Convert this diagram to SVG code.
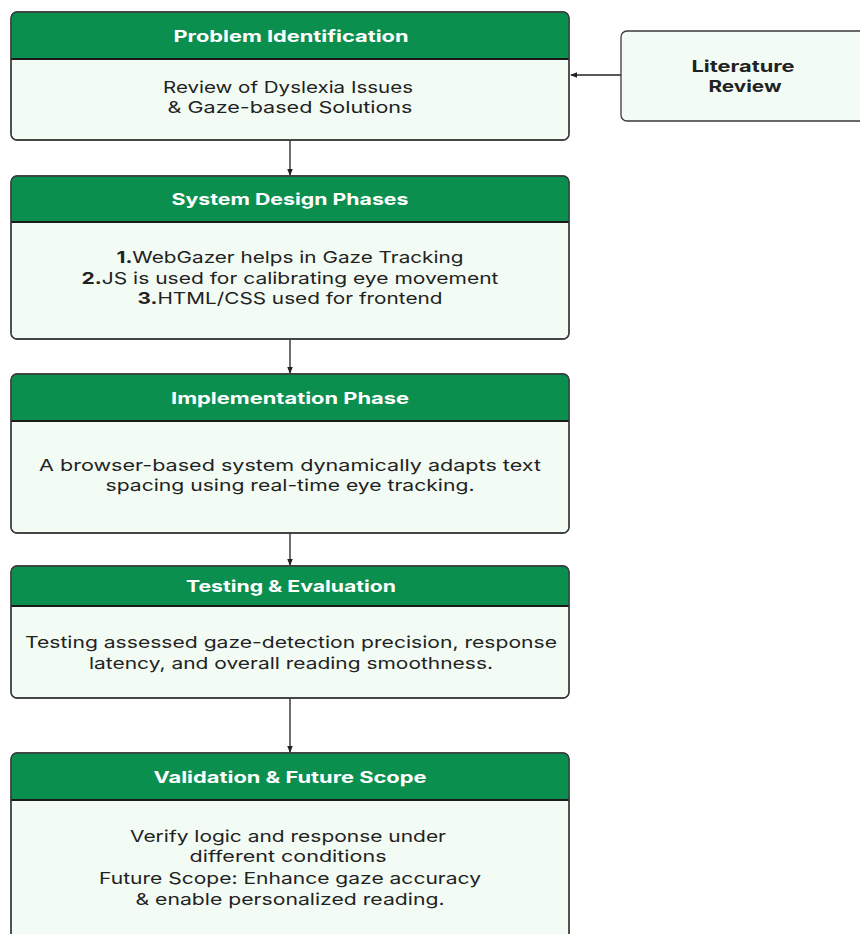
<svg xmlns="http://www.w3.org/2000/svg" width="860" height="934" viewBox="0 0 860 934">
<style>
.box{fill:#f3fcf4;stroke:#3a3a3a;stroke-width:1.3}
.hdr{fill:#0b8f4f}
.div{stroke:#1a1a1a;stroke-width:2}
.ht{font-family:Inter,"Liberation Sans",sans-serif;font-weight:700;font-size:16px;fill:#ffffff;text-anchor:middle}
.bt{font-family:Inter,"Liberation Sans",sans-serif;font-size:16.5px;fill:#222;text-anchor:middle}
.lt{font-family:Inter,"Liberation Sans",sans-serif;font-weight:700;font-size:16px;fill:#222;text-anchor:middle}
.con{stroke:#222;stroke-width:1.3;fill:none}
</style>
<defs>
<marker id="ah" viewBox="0 0 8 8" refX="7" refY="4" markerWidth="7" markerHeight="7" markerUnits="userSpaceOnUse" orient="auto">
<path d="M0,0.8 L8,4 L0,7.2 Z" fill="#222"/>
</marker>
<clipPath id="c1"><rect x="11" y="12" width="558" height="128" rx="6"/></clipPath>
<clipPath id="c2"><rect x="11" y="176" width="558" height="163" rx="6"/></clipPath>
<clipPath id="c3"><rect x="11" y="374" width="558" height="159" rx="6"/></clipPath>
<clipPath id="c4"><rect x="11" y="566" width="558" height="132" rx="6"/></clipPath>
<clipPath id="c5"><rect x="11" y="753" width="558" height="200" rx="6"/></clipPath>
</defs>
<rect width="860" height="934" fill="#ffffff"/>

<g id="connectors">
<line class="con" x1="290" y1="140" x2="290" y2="175" marker-end="url(#ah)"/>
<line class="con" x1="290" y1="339" x2="290" y2="373" marker-end="url(#ah)"/>
<line class="con" x1="290" y1="533" x2="290" y2="565" marker-end="url(#ah)"/>
<line class="con" x1="290" y1="698" x2="290" y2="752" marker-end="url(#ah)"/>
<line class="con" x1="621" y1="75" x2="571" y2="75" marker-end="url(#ah)"/>
</g>

<g id="problem-identification">
<rect class="box" x="11" y="12" width="558" height="128" rx="6"/>
<rect class="hdr" x="11" y="12" width="558" height="47" clip-path="url(#c1)"/>
<line class="div" x1="11" y1="59" x2="569" y2="59"/>
<rect x="11" y="12" width="558" height="128" rx="6" fill="none" stroke="#3a3a3a" stroke-width="1.3"/>
<text class="ht" x="291" y="42" textLength="235" lengthAdjust="spacingAndGlyphs">Problem Identification</text>
<text class="bt" x="288" y="93" textLength="250" lengthAdjust="spacingAndGlyphs">Review of Dyslexia Issues</text>
<text class="bt" x="290" y="113" textLength="245" lengthAdjust="spacingAndGlyphs">&amp; Gaze-based Solutions</text>
</g>

<g id="literature-review">
<rect class="box" x="621" y="31" width="260" height="90" rx="6"/>
<text class="lt" x="743" y="72" textLength="103" lengthAdjust="spacingAndGlyphs">Literature</text>
<text class="lt" x="745" y="92" textLength="73" lengthAdjust="spacingAndGlyphs">Review</text>
</g>

<g id="system-design">
<rect class="box" x="11" y="176" width="558" height="163" rx="6"/>
<rect class="hdr" x="11" y="176" width="558" height="46" clip-path="url(#c2)"/>
<line class="div" x1="11" y1="222" x2="569" y2="222"/>
<rect x="11" y="176" width="558" height="163" rx="6" fill="none" stroke="#3a3a3a" stroke-width="1.3"/>
<text class="ht" x="290" y="205" textLength="237" lengthAdjust="spacingAndGlyphs">System Design Phases</text>
<text class="bt" x="290" y="263" textLength="347" lengthAdjust="spacingAndGlyphs"><tspan font-weight="700">1.</tspan>WebGazer helps in Gaze Tracking</text>
<text class="bt" x="290" y="284" textLength="417" lengthAdjust="spacingAndGlyphs"><tspan font-weight="700">2.</tspan>JS is used for calibrating eye movement</text>
<text class="bt" x="290" y="304" textLength="305" lengthAdjust="spacingAndGlyphs"><tspan font-weight="700">3.</tspan>HTML/CSS used for frontend</text>
</g>

<g id="implementation">
<rect class="box" x="11" y="374" width="558" height="159" rx="6"/>
<rect class="hdr" x="11" y="374" width="558" height="47" clip-path="url(#c3)"/>
<line class="div" x1="11" y1="421" x2="569" y2="421"/>
<rect x="11" y="374" width="558" height="159" rx="6" fill="none" stroke="#3a3a3a" stroke-width="1.3"/>
<text class="ht" x="290" y="404" textLength="238" lengthAdjust="spacingAndGlyphs">Implementation Phase</text>
<text class="bt" x="290" y="471" textLength="502" lengthAdjust="spacingAndGlyphs">A browser-based system dynamically adapts text</text>
<text class="bt" x="290" y="491" textLength="369" lengthAdjust="spacingAndGlyphs">spacing using real-time eye tracking.</text>
</g>

<g id="testing">
<rect class="box" x="11" y="566" width="558" height="132" rx="6"/>
<rect class="hdr" x="11" y="566" width="558" height="40" clip-path="url(#c4)"/>
<line class="div" x1="11" y1="606" x2="569" y2="606"/>
<rect x="11" y="566" width="558" height="132" rx="6" fill="none" stroke="#3a3a3a" stroke-width="1.3"/>
<text class="ht" x="291" y="592" textLength="210" lengthAdjust="spacingAndGlyphs">Testing &amp; Evaluation</text>
<text class="bt" x="291" y="648" textLength="532" lengthAdjust="spacingAndGlyphs">Testing assessed gaze-detection precision, response</text>
<text class="bt" x="291" y="669" textLength="404" lengthAdjust="spacingAndGlyphs">latency, and overall reading smoothness.</text>
</g>

<g id="validation">
<rect class="box" x="11" y="753" width="558" height="200" rx="6"/>
<rect class="hdr" x="11" y="753" width="558" height="47" clip-path="url(#c5)"/>
<line class="div" x1="11" y1="800" x2="569" y2="800"/>
<rect x="11" y="753" width="558" height="200" rx="6" fill="none" stroke="#3a3a3a" stroke-width="1.3"/>
<text class="ht" x="290" y="783" textLength="273" lengthAdjust="spacingAndGlyphs">Validation &amp; Future Scope</text>
<text class="bt" x="288" y="842" textLength="316" lengthAdjust="spacingAndGlyphs">Verify logic and response under</text>
<text class="bt" x="288" y="862" textLength="197" lengthAdjust="spacingAndGlyphs">different conditions</text>
<text class="bt" x="290" y="884" textLength="382" lengthAdjust="spacingAndGlyphs">Future Scope: Enhance gaze accuracy</text>
<text class="bt" x="290" y="905" textLength="309" lengthAdjust="spacingAndGlyphs">&amp; enable personalized reading.</text>
</g>
</svg>
